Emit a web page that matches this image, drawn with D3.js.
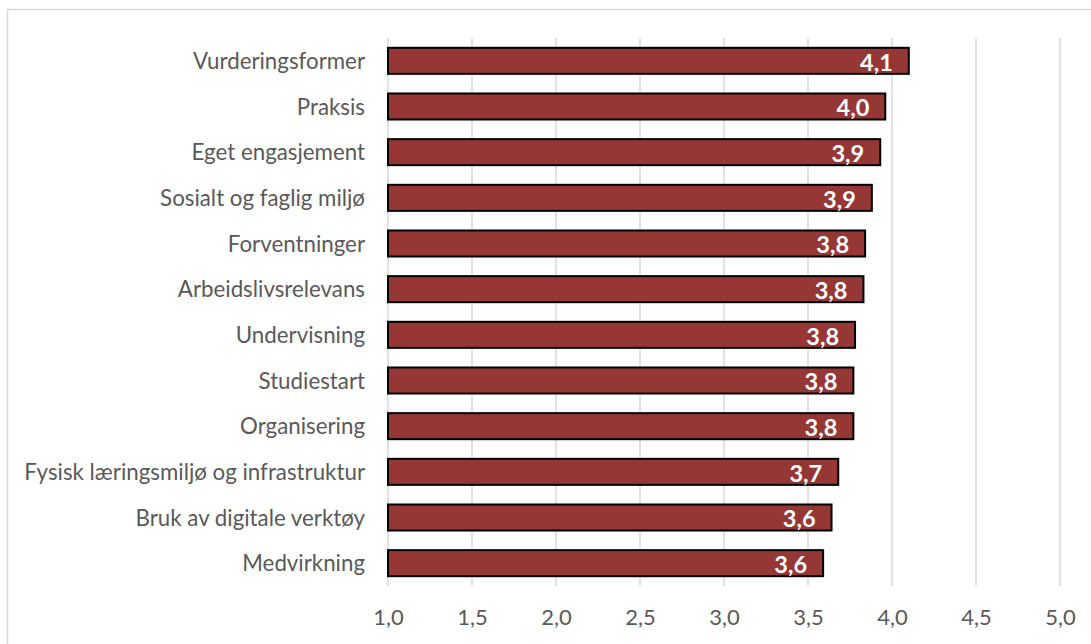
<!DOCTYPE html>
<html>
<head>
<meta charset="utf-8">
<script src="https://cdn.jsdelivr.net/npm/d3@7"></script>
<style>
  html, body { margin: 0; padding: 0; background: #fff; }
  svg { display: block; }
</style>
</head>
<body>
<svg id="chart" width="1091" height="644"></svg>
<script>
const categories = [
  "Vurderingsformer",
  "Praksis",
  "Eget engasjement",
  "Sosialt og faglig miljø",
  "Forventninger",
  "Arbeidslivsrelevans",
  "Undervisning",
  "Studiestart",
  "Organisering",
  "Fysisk læringsmiljø og infrastruktur",
  "Bruk av digitale verktøy",
  "Medvirkning"
];
const values = [4.10, 3.96, 3.93, 3.88, 3.84, 3.83, 3.78, 3.77, 3.77, 3.68, 3.64, 3.59];
const tickValues = [1.0, 1.5, 2.0, 2.5, 3.0, 3.5, 4.0, 4.5, 5.0];
const xDomain = [1, 5];

const fontFamily = "Lato, 'Open Sans', sans-serif";
const svg = d3.select("#chart");

// outer chart border
svg.append("rect")
  .attr("x", 7.5).attr("y", 9.5)
  .attr("width", 1200).attr("height", 800)
  .attr("fill", "none").attr("stroke", "#d9d9d9").attr("stroke-width", 1.5);

const plot = { left: 388, right: 1060, top: 38, bottom: 586 };

const x = d3.scaleLinear().domain(xDomain).range([plot.left, plot.right]);
const y = d3.scaleBand().domain(categories).range([plot.top, plot.bottom]).paddingInner(0.43).paddingOuter(0.215);

const fmt = v => d3.format(".1f")(v).replace(".", ",");

// gridlines
svg.append("g").selectAll("line").data(tickValues).join("line")
  .attr("x1", d => x(d)).attr("x2", d => x(d))
  .attr("y1", plot.top).attr("y2", plot.bottom)
  .attr("stroke", "#d9d9d9").attr("stroke-width", 1.5);

// x tick labels
const xAxis = d3.axisBottom(x).tickValues(tickValues).tickFormat(fmt).tickSize(0).tickPadding(0);
const gx = svg.append("g").attr("transform", `translate(0,${plot.bottom})`).call(xAxis);
gx.select(".domain").remove();
gx.selectAll("text")
  .attr("y", 0).attr("dy", 0)
  .attr("transform", "translate(0,39)")
  .attr("font-family", fontFamily).attr("font-size", 22).attr("fill", "#595959");

// y category labels
const yAxis = d3.axisLeft(y).tickSize(0).tickPadding(0);
const gy = svg.append("g").attr("transform", `translate(${plot.left - 23},0)`).call(yAxis);
gy.select(".domain").remove();
gy.selectAll("text")
  .attr("x", 0).attr("dy", "0.36em")
  .attr("font-family", fontFamily).attr("font-size", 22.3).attr("fill", "#595959");

// bars
const data = categories.map((c, i) => ({ c, v: values[i] }));
svg.append("g").selectAll("rect").data(data).join("rect")
  .attr("x", x(xDomain[0]))
  .attr("y", d => y(d.c))
  .attr("width", d => x(d.v) - x(xDomain[0]))
  .attr("height", y.bandwidth())
  .attr("fill", "#953735")
  .attr("stroke", "#000").attr("stroke-width", 2);

// value labels
svg.append("g").selectAll("text").data(data).join("text")
  .attr("x", d => x(d.v) - 16)
  .attr("y", d => y(d.c) + y.bandwidth() / 2)
  .attr("dy", "0.42em")
  .attr("text-anchor", "end")
  .attr("font-family", fontFamily).attr("font-size", 23.5).attr("font-weight", "bold")
  .attr("fill", "#fff")
  .text(d => fmt(d.v));
</script>
</body>
</html>
